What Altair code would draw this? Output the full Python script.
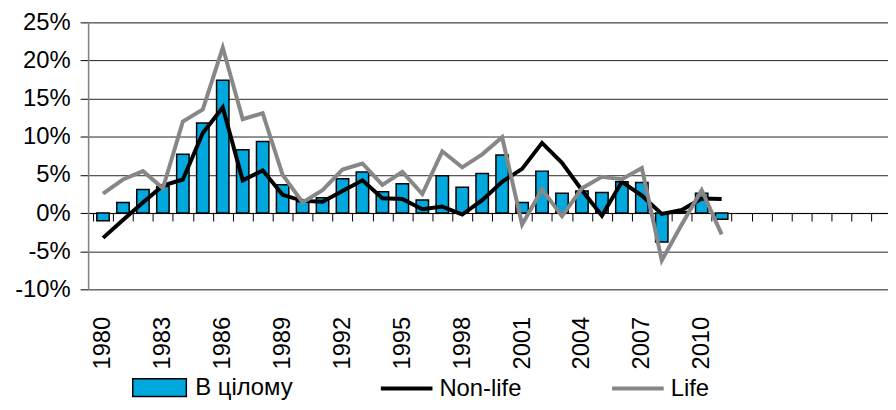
import altair as alt
import pandas as pd

# ---- data ----
years = list(range(1980, 2012))
total = [-1.0, 1.4, 3.1, 3.5, 7.7, 11.8, 17.4, 8.3, 9.4, 3.7,
         1.5, 2.0, 4.5, 5.4, 2.8, 3.85, 1.7, 4.9, 3.4, 5.2,
         7.6, 1.4, 5.5, 2.6, 2.9, 2.7, 4.1, 4.0, -3.8, 0.2,
         2.6, -0.8]
nonlife = [-3.25, -0.9, 1.4, 3.6, 4.4, 10.5, 13.85, 4.3, 5.6, 2.4,
           1.6, 1.5, 2.9, 4.3, 1.95, 1.85, 0.5, 0.85, -0.2, 1.7,
           4.1, 5.8, 9.2, 6.6, 3.0, -0.35, 4.1, 2.3, -0.1, 0.4,
           1.9, 1.85]
life = [2.55, 4.4, 5.5, 3.25, 12.0, 13.6, 21.7, 12.3, 13.1, 5.0,
        1.4, 3.0, 5.7, 6.5, 3.7, 5.4, 2.5, 8.1, 6.0, 7.7,
        9.95, -1.5, 3.1, -0.4, 3.25, 4.75, 4.45, 5.9, -6.2, -1.5,
        3.0, -2.8]
series_names = ["В цілому", "Non-life", "Life"]
y_ticks = [-10, -5, 0, 5, 10, 15, 20, 25]
x_label_years = list(range(1980, 2011, 3))
x_boundaries = [y - 0.5 for y in range(1980, 2020)]

rows = []
for name, vals in zip(series_names, [total, nonlife, life]):
    for yr, v in zip(years, vals):
        rows.append({"year": yr, "series": name, "value": v})
df = pd.DataFrame(rows)

FONT = "Liberation Sans"
W, H = 806, 269
STEP = 20.36
x_scale = alt.Scale(domain=[1979.5, 1979.5 + W / STEP], nice=False, zero=False)
y_scale = alt.Scale(domain=[-10, 25], nice=False, zero=False)

y_axis = alt.Axis(values=y_ticks, labelExpr="datum.value + '%'", title=None,
                  tickSize=8, tickColor="#000000", tickWidth=1,
                  domainColor="#808080", domainWidth=1.5,
                  grid=True, gridColor="#262626", gridWidth=1, labelOverlap=False,
                  labelFont=FONT, labelFontSize=24, labelColor="#000000",
                  labelPadding=10)

LEG_Y = 340
LEG_FS = 24

base = alt.Chart(df)

bars = base.transform_filter(alt.datum.series == series_names[0]).mark_bar(
    size=12.5, stroke="#000000", strokeWidth=1.5
).encode(
    x=alt.X("year:Q", scale=x_scale,
            axis=alt.Axis(orient="bottom", values=x_boundaries, labels=False, title=None,
                          grid=False, tickSize=8, tickColor="#000000", tickWidth=1,
                          domainColor="#000000", domainWidth=1,
                          offset=-(H * 10 / 35))),
    y=alt.Y("value:Q", scale=y_scale, axis=y_axis, stack=None),
    color=alt.Color("series:N",
                    scale=alt.Scale(domain=[series_names[0]], range=["#00A8DE"]),
                    legend=alt.Legend(title=None, orient="none", legendX=44, legendY=LEG_Y,
                                      symbolType="M-1,-0.333H1V0.333H-1Z", symbolSize=2916,
                                      symbolStrokeColor="#000000", symbolStrokeWidth=1.5,
                                      labelFont=FONT, labelFontSize=LEG_FS, labelColor="#000000",
                                      labelOffset=8, padding=0)),
)

nl = base.transform_filter(alt.datum.series == series_names[1]).mark_line(
    strokeWidth=4
).encode(
    x=alt.X("year:Q", scale=x_scale,
            axis=alt.Axis(orient="bottom", values=x_label_years, format="d",
                          labelAngle=270, title=None,
                          grid=False, ticks=False, domain=False, labelPadding=27,
                          labelOverlap=False,
                          labelFont=FONT, labelFontSize=24, labelColor="#000000")),
    y=alt.Y("value:Q", scale=y_scale, axis=y_axis),
    color=alt.Color("series:N",
                    scale=alt.Scale(domain=[series_names[1]], range=["#000000"]),
                    legend=alt.Legend(title=None, orient="none", legendX=293, legendY=LEG_Y + 1,
                                      symbolType="stroke", symbolSize=2704,
                                      symbolStrokeWidth=4,
                                      labelFont=FONT, labelFontSize=LEG_FS, labelColor="#000000",
                                      labelOffset=5, padding=0)),
)

lf = base.transform_filter(alt.datum.series == series_names[2]).mark_line(
    strokeWidth=4
).encode(
    x=alt.X("year:Q", scale=x_scale, axis=None),
    y=alt.Y("value:Q", scale=y_scale, axis=y_axis),
    color=alt.Color("series:N",
                    scale=alt.Scale(domain=[series_names[2]], range=["#878787"]),
                    legend=alt.Legend(title=None, orient="none", legendX=526, legendY=LEG_Y + 1,
                                      symbolType="stroke", symbolSize=2704,
                                      symbolStrokeWidth=4,
                                      labelFont=FONT, labelFontSize=LEG_FS, labelColor="#000000",
                                      labelOffset=5, padding=0)),
)

chart = alt.layer(bars, nl, lf).resolve_scale(color="independent").resolve_axis(
    x="independent"
).properties(
    width=W, height=H,
    autosize=alt.AutoSizeParams(type="none"),
    padding={"left": 80.7, "top": 13, "right": 0, "bottom": 112},
).configure_view(stroke=None).configure(background="#ffffff")

chart.save("out.html", embed_options={"renderer": "svg", "actions": False})
